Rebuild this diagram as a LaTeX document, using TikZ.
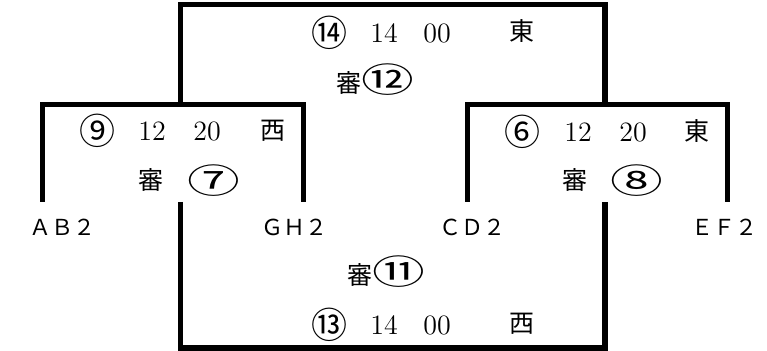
\documentclass[tikz,border=0pt]{standalone}
\usepackage{fontspec}
\usepackage{graphicx}
\newfontfamily\jp{Noto Sans CJK JP}
\usetikzlibrary{positioning}

% circled number, and a wide one, as on the sheet
\newcommand{\circno}[1]{{\fontsize{18}{20}\selectfont #1}}
\newcommand{\wideno}[1]{{\fontsize{17}{20}\selectfont\scalebox{1.55}[1]{#1}}}

\begin{document}
\begin{tikzpicture}[
	% one unit is one pixel of the sheet, y runs downwards
	x=0.5pt, y=-0.5pt
	]
	% Styles for lines and the different kinds of text.
	\tikzset{
		line/.style={line width=2.6pt, line join=miter},
		txt/.style={inner sep=0pt, font=\fontsize{14}{16}\selectfont},
		kan/.style={inner sep=0pt, font=\jp\fontsize{12.5}{15}\selectfont},
		team/.style={inner sep=0pt, font=\jp\fontsize{11}{13}\selectfont}
	}
	\useasboundingbox (0,0) rectangle (767,351);

	% === CORNERS ===
	\coordinate (abfoot) at (42.5,202);
	\coordinate (abtop)  at (42.5,104.5);
	\coordinate (ghtop)  at (303.5,104.5);
	\coordinate (ghfoot) at (303.5,202);
	\coordinate (cdfoot) at (467.5,202);
	\coordinate (cdtop)  at (467.5,104.5);
	\coordinate (eftop)  at (727.5,104.5);
	\coordinate (effoot) at (727.5,202);
	\coordinate (semiL)  at (180.5,104.5);
	\coordinate (finTL)  at (180.5,4.5);
	\coordinate (finTR)  at (605,4.5);
	\coordinate (semiR)  at (605,104.5);
	\coordinate (lowL)   at (180.5,202);
	\coordinate (finBL)  at (180.5,348);
	\coordinate (finBR)  at (605,348);
	\coordinate (lowR)   at (605,202);

	% === TEAMS ===
	\node[team] (ab) at (63,227)  {ＡＢ２};
	\node[team] (gh) at (294,227) {ＧＨ２};
	\node[team] (cd) at (472,227) {ＣＤ２};
	\node[team] (ef) at (724,227) {ＥＦ２};

	% === GAMES ===
	% top final
	\node[kan] (no14)   at (329,33) {\circno{⑭}};
	\node[txt] (hr14)   at (384,33) {14};
	\node[txt] (mn14)   at (437,33) {00};
	\node[kan] (side14) at (522,31) {東};
	\node[kan] (ref12)  at (375,80) {審\wideno{⑫}};
	% left semi
	\node[kan] (no9)    at (97,131)  {\circno{⑨}};
	\node[txt] (hr9)    at (152,131) {12};
	\node[txt] (mn9)    at (207,131) {20};
	\node[kan] (side9)  at (273,131) {西};
	\node[kan] (refA)   at (151,180) {審};
	\node[kan] (ref7)   at (214,181) {\wideno{⑦}};
	% right semi
	\node[kan] (no6)    at (522,132) {\circno{⑥}};
	\node[txt] (hr6)    at (578,132) {12};
	\node[txt] (mn6)    at (633,132) {20};
	\node[kan] (side6)  at (697,131) {東};
	\node[kan] (refB)   at (575,180) {審};
	\node[kan] (ref8)   at (637,181) {\wideno{⑧}};
	% bottom final
	\node[kan] (ref11)  at (386,272) {審\wideno{⑪}};
	\node[kan] (no13)   at (329,325) {\circno{⑬}};
	\node[txt] (hr13)   at (384,325) {14};
	\node[txt] (mn13)   at (437,325) {00};
	\node[kan] (side13) at (522,324) {西};

	% === BRACKET ===
	\draw[line] (abfoot) -- (abtop) -- (ghtop) -- (ghfoot);
	\draw[line] (cdfoot) -- (cdtop) -- (eftop) -- (effoot);
	\draw[line] (semiL) -- (finTL) -- (finTR) -- (semiR);
	\draw[line] (lowL) -- (finBL) -- (finBR) -- (lowR);
\end{tikzpicture}
\end{document}
